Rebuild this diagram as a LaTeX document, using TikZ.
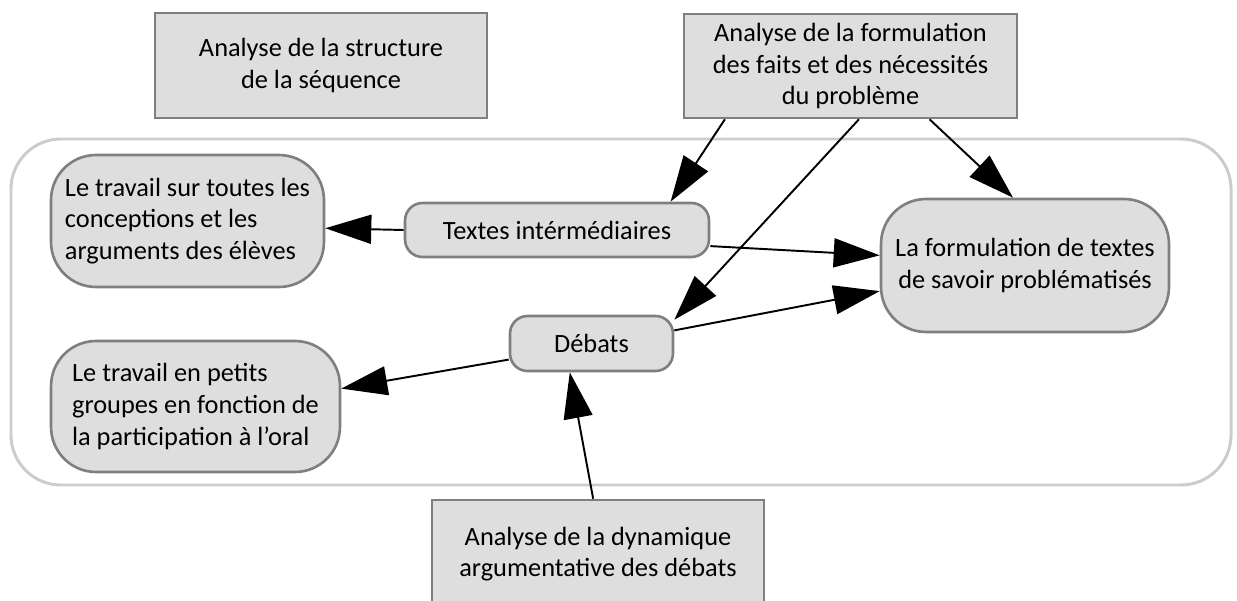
\documentclass[tikz,border=0pt]{standalone}
\usepackage{fontspec}
\setmainfont{Carlito}
\usetikzlibrary{arrows.meta}

\definecolor{boxfill}{HTML}{DEDEDE}
\definecolor{boxline}{HTML}{7F7F7F}
\definecolor{frameline}{HTML}{CCCCCC}

\begin{document}
\begin{tikzpicture}[
    x = 0.02cm, y = -0.02cm,
    every node/.style = {font = \fontsize{15pt}{18pt}\selectfont, inner sep = 0.1cm},
    analyse/.style = {shape = rectangle, draw = boxline, fill = boxfill, line width = 1.5pt, align = center},
    theme/.style = {shape = rectangle, rounded corners = 0.9cm, draw = boxline, fill = boxfill, line width = 1.5pt},
    outil/.style = {shape = rectangle, rounded corners = 0.35cm, draw = boxline, fill = boxfill, line width = 1.5pt, align = center},
    fleche/.style = {-{Triangle[length = 0.92cm, width = 0.58cm]}, line width = 1.1pt},
    ]
    \useasboundingbox (0, 0) rectangle (1237, 601);
    \clip (0, 0) rectangle (1237, 601);

    % cadre
    \draw[frameline, line width = 1.7pt, rounded corners = 1cm] (11, 139) rectangle (1231, 485);

    \node[analyse, minimum width = 6.64cm, minimum height = 2.10cm] (S) at (321, 65.5) {Analyse de la structure\\de la séquence};
    \node[analyse, minimum width = 6.66cm, minimum height = 2.08cm] (F) at (850.5, 66) {Analyse de la formulation\\des faits et des nécessités\\du problème};
    \node[analyse, minimum width = 6.64cm, minimum height = 2.16cm] (Dy) at (598, 554) {Analyse de la dynamique\\argumentative des débats};

    \node[theme, align = left, minimum width = 5.46cm, minimum height = 2.64cm] (L1) at (187.5, 221) {Le travail sur toutes les\\conceptions et les\\arguments des élèves};
    \node[theme, align = left, minimum width = 5.78cm, minimum height = 2.62cm] (L2) at (195.5, 406.5) {Le travail en petits\\groupes en fonction de\\la participation à l’oral};
    \node[theme, align = center, minimum width = 5.76cm, minimum height = 2.66cm] (R) at (1025, 265.5) {La formulation de textes\\de savoir problématisés};

    \node[outil, minimum width = 6.08cm, minimum height = 1.08cm] (T) at (557, 230) {Textes intérmédiaires};
    \node[outil, minimum width = 3.26cm, minimum height = 1.10cm] (D) at (591.5, 343.5) {Débats};

    \draw[fleche] (T.west) -- (L1.357);
    \draw[fleche] (T.354) -- (R.176);
    \draw[fleche] (D.9) -- (R.190);
    \draw[fleche] (D.191) -- (L2.7);
    \draw[fleche] (Dy.95) -- (D.233);

    \draw[fleche] (F.203) -- (T.14);
    \draw[fleche] (F.279) -- (D.16);
    \draw[fleche] (F.326) -- (R.100);
\end{tikzpicture}
\end{document}
